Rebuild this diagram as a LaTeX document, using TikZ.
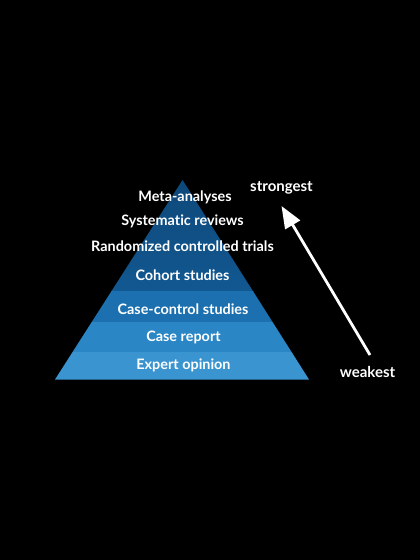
\documentclass[tikz,border=0pt]{standalone}
\usepackage{fontspec}
\setmainfont{Lato}[Ligatures=NoCommon]
\usetikzlibrary{arrows.meta}
\definecolor{bandA}{RGB}{14,72,122}
\definecolor{bandAb}{RGB}{18,88,145}
\definecolor{bandC}{RGB}{28,112,175}
\definecolor{bandD}{RGB}{42,134,196}
\definecolor{bandE}{RGB}{58,148,208}
\tikzset{
  lbl/.style={text=white, font=\fontsize{14.4}{16}\selectfont\bfseries, inner sep=0pt, anchor=center},
  side/.style={text=white, font=\fontsize{15}{17}\selectfont\bfseries, inner sep=0pt, anchor=center},
}
\begin{document}
\begin{tikzpicture}[x=1pt,y=-1pt]
\fill[black] (0,0) rectangle (420,560);
\useasboundingbox (0,0) rectangle (420,560);
\coordinate (apex) at (182.5,180);
\coordinate (bl) at (55,379.5);
\coordinate (br) at (309,379.5);
\begin{scope}
  \clip (apex) -- (bl) -- (br) -- cycle;
  \shade[top color=bandA, bottom color=bandAb] (40,178) rectangle (330,291);
  \fill[bandC] (40,290.7) rectangle (330,321.7);
  \fill[bandD] (40,321.7) rectangle (330,351.7);
  \fill[bandE] (40,351.7) rectangle (330,381);
\end{scope}
\node[lbl] (meta) at (185,197) {Meta-analyses};
\node[lbl] (sys) at (182.5,221) {Systematic reviews};
\node[lbl] (rct) at (182.5,246.5) {Randomized controlled trials};
\node[lbl] (coh) at (182.5,275) {Cohort studies};
\node[lbl] (cc) at (183,309) {Case-control studies};
\node[lbl] (cr) at (183.5,337) {Case report};
\node[lbl] (eo) at (183.5,365.5) {Expert opinion};
\node[side] (strong) at (281.5,188) {strongest};
\node[side] (weak) at (367.5,371.5) {weakest};
\coordinate (tail) at (370,355);
\coordinate (tip) at (281.5,206);
\draw[white, line width=2.8pt, -{Triangle[length=22pt,width=17pt]}] (tail) -- (tip);
\end{tikzpicture}
\end{document}
